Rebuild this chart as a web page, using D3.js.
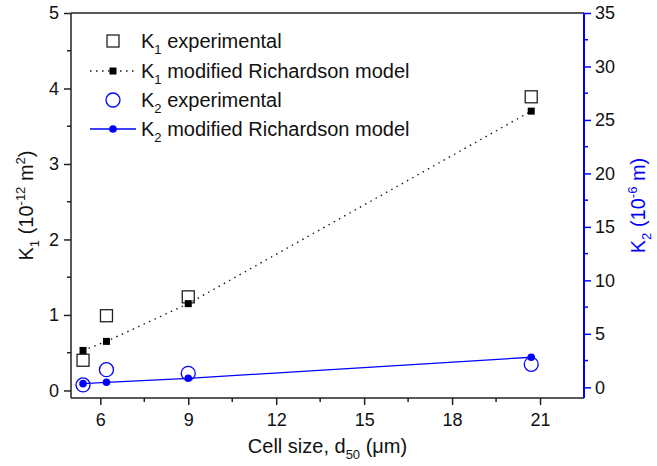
<!DOCTYPE html>
<html><head><meta charset="utf-8">
<script src="https://cdn.jsdelivr.net/npm/d3@7"></script>
<style>body{margin:0;background:#fff}svg{display:block;font-family:Arial,"Liberation Sans",sans-serif}</style>
</head><body><svg id="c" width="657" height="466"></svg>
<script>
const cellSize = [5.41, 6.21, 9.0, 20.7];
const k1Exp = [0.40, 0.99, 1.24, 3.89];
const k1Model = [0.53, 0.65, 1.15, 3.70];
const k2Exp = [0.22, 1.65, 1.31, 2.15];
const k2Model = [0.34, 0.47, 0.84, 2.81];
const xTicks = [6, 9, 12, 15, 18, 21];
const yLeftTicks = [0, 1, 2, 3, 4, 5];
const yRightTicks = [0, 5, 10, 15, 20, 25, 30, 35];

const svg = d3.select("#c");
const L = 71, R = 584, T = 13, B = 398;
const blue = "#0000ff";
const FF = "Arial, 'Liberation Sans', sans-serif";
const x = d3.scaleLinear().domain([5, 22.5]).range([L, R]);
const y1 = d3.scaleLinear().domain([-0.1, 5]).range([B, T]);
const y2 = d3.scaleLinear().domain([-1, 35]).range([B, T]);

// frame top
svg.append("line").attr("x1", L).attr("x2", R).attr("y1", T).attr("y2", T).attr("stroke", "#222").attr("stroke-width", 1.5);

// bottom axis
const xMinor = d3.range(7.5, 22.5, 3);
const gx = svg.append("g").attr("transform", `translate(0,${B})`);
gx.call(d3.axisBottom(x).tickValues(xTicks).tickSize(7).tickPadding(8).tickFormat(d3.format("d")));
gx.append("g").selectAll("line").data(xMinor).join("line")
  .attr("x1", d => x(d)).attr("x2", d => x(d)).attr("y1", 0).attr("y2", 4).attr("stroke", "#222").attr("stroke-width", 1.5);
gx.select(".domain").attr("d", `M${L},0H${R}`).attr("stroke", "#222").attr("stroke-width", 1.5);
gx.selectAll(".tick line").attr("stroke", "#222").attr("stroke-width", 1.5);
gx.selectAll(".tick text").attr("font-size", 18).attr("fill", "#111").attr("font-family", FF);

// left axis
const gy1 = svg.append("g").attr("transform", `translate(${L},0)`);
gy1.call(d3.axisLeft(y1).tickValues(yLeftTicks).tickSize(7).tickPadding(5).tickFormat(d3.format("d")));
gy1.append("g").selectAll("line").data(d3.range(0.5, 5, 1)).join("line")
  .attr("y1", d => y1(d)).attr("y2", d => y1(d)).attr("x1", 0).attr("x2", -4).attr("stroke", "#222").attr("stroke-width", 1.5);
gy1.select(".domain").attr("d", `M0,${T}V${B}`).attr("stroke", "#222").attr("stroke-width", 1.5);
gy1.selectAll(".tick line").attr("stroke", "#222").attr("stroke-width", 1.5);
gy1.selectAll(".tick text").attr("font-size", 18).attr("fill", "#111").attr("font-family", FF);

// right axis
const gy2 = svg.append("g").attr("transform", `translate(${R},0)`);
gy2.call(d3.axisRight(y2).tickValues(yRightTicks).tickSize(7).tickPadding(4).tickFormat(d3.format("d")));
gy2.append("g").selectAll("line").data(d3.range(2.5, 35, 5)).join("line")
  .attr("y1", d => y2(d)).attr("y2", d => y2(d)).attr("x1", 0).attr("x2", 4).attr("stroke", blue).attr("stroke-width", 1.5);
gy2.select(".domain").attr("d", `M0,${T}V${B}`).attr("stroke", blue).attr("stroke-width", 2);
gy2.selectAll(".tick line").attr("stroke", blue).attr("stroke-width", 1.5);
gy2.selectAll(".tick text").attr("font-size", 18).attr("fill", "#111").attr("font-family", FF);

// axis titles
const xt = svg.append("text").attr("x", (L + R) / 2).attr("y", 453).attr("text-anchor", "middle").attr("font-size", 20).attr("fill", "#111");
xt.append("tspan").text("Cell size, d");
xt.append("tspan").attr("font-size", 13).attr("dy", 6).text("50");
xt.append("tspan").attr("dy", -6).text(" (\u03bcm)");

const yt = svg.append("text").attr("transform", `translate(33,${(T + B) / 2}) rotate(-90)`).attr("text-anchor", "middle").attr("font-size", 20).attr("fill", "#111");
yt.append("tspan").text("K");
yt.append("tspan").attr("font-size", 13).attr("dy", 6).text("1");
yt.append("tspan").attr("dy", -6).text(" (10");
yt.append("tspan").attr("font-size", 13).attr("dy", -8).text("-12");
yt.append("tspan").attr("dy", 8).text(" m");
yt.append("tspan").attr("font-size", 13).attr("dy", -8).text("2");
yt.append("tspan").attr("dy", 8).text(")");

const yt2 = svg.append("text").attr("transform", `translate(645,${(T + B) / 2}) rotate(-90)`).attr("text-anchor", "middle").attr("font-size", 20).attr("fill", blue);
yt2.append("tspan").text("K");
yt2.append("tspan").attr("font-size", 13).attr("dy", 6).text("2");
yt2.append("tspan").attr("dy", -6).text(" (10");
yt2.append("tspan").attr("font-size", 13).attr("dy", -8).text("-6");
yt2.append("tspan").attr("dy", 8).text(" m)");

// series
const k1m = cellSize.map((c, i) => [c, k1Model[i]]);
const k2m = cellSize.map((c, i) => [c, k2Model[i]]);
svg.append("path").datum(k1m).attr("d", d3.line().x(d => x(d[0])).y(d => y1(d[1])))
  .attr("fill", "none").attr("stroke", "#111").attr("stroke-width", 1.3).attr("stroke-dasharray", "1.5,4.5");
svg.append("path").datum(k2m).attr("d", d3.line().x(d => x(d[0])).y(d => y2(d[1])))
  .attr("fill", "none").attr("stroke", blue).attr("stroke-width", 1.3);

svg.append("g").selectAll("rect").data(cellSize).join("rect")
  .attr("x", (d) => x(d) - 6).attr("y", (d, i) => y1(k1Exp[i]) - 6).attr("width", 12).attr("height", 12)
  .attr("fill", "none").attr("stroke", "#222").attr("stroke-width", 1.3);
svg.append("g").selectAll("rect").data(cellSize).join("rect")
  .attr("x", (d) => x(d) - 3.5).attr("y", (d, i) => y1(k1Model[i]) - 3.5).attr("width", 7).attr("height", 7)
  .attr("fill", "#000");
svg.append("g").selectAll("circle").data(cellSize).join("circle")
  .attr("cx", d => x(d)).attr("cy", (d, i) => y2(k2Exp[i])).attr("r", 7)
  .attr("fill", "none").attr("stroke", blue).attr("stroke-width", 1.3);
svg.append("g").selectAll("circle").data(cellSize).join("circle")
  .attr("cx", d => x(d)).attr("cy", (d, i) => y2(k2Model[i])).attr("r", 3.8)
  .attr("fill", blue);

// legend
const leg = svg.append("g");
const rows = [
  {y: 41, label: ["K", "1", " experimental"]},
  {y: 71, label: ["K", "1", " modified Richardson model"]},
  {y: 100, label: ["K", "2", " experimental"]},
  {y: 129, label: ["K", "2", " modified Richardson model"]}
];
const sx = 113;
leg.append("rect").attr("x", sx - 6).attr("y", rows[0].y - 6).attr("width", 12).attr("height", 12).attr("fill", "none").attr("stroke", "#222").attr("stroke-width", 1.3);
leg.append("line").attr("x1", 90).attr("x2", 136).attr("y1", rows[1].y).attr("y2", rows[1].y).attr("stroke", "#111").attr("stroke-width", 1.3).attr("stroke-dasharray", "1.5,4.5");
leg.append("rect").attr("x", sx - 3.5).attr("y", rows[1].y - 3.5).attr("width", 7).attr("height", 7).attr("fill", "#000");
leg.append("circle").attr("cx", sx).attr("cy", rows[2].y).attr("r", 7).attr("fill", "none").attr("stroke", blue).attr("stroke-width", 1.3);
leg.append("line").attr("x1", 90).attr("x2", 136).attr("y1", rows[3].y).attr("y2", rows[3].y).attr("stroke", blue).attr("stroke-width", 1.3);
leg.append("circle").attr("cx", sx).attr("cy", rows[3].y).attr("r", 3.8).attr("fill", blue);
rows.forEach(r => {
  const t = leg.append("text").attr("x", 141).attr("y", r.y + 7).attr("font-size", 20).attr("fill", "#111");
  t.append("tspan").text(r.label[0]);
  t.append("tspan").attr("font-size", 13).attr("dy", 6).text(r.label[1]);
  t.append("tspan").attr("dy", -6).text(r.label[2]);
});
</script></body></html>
